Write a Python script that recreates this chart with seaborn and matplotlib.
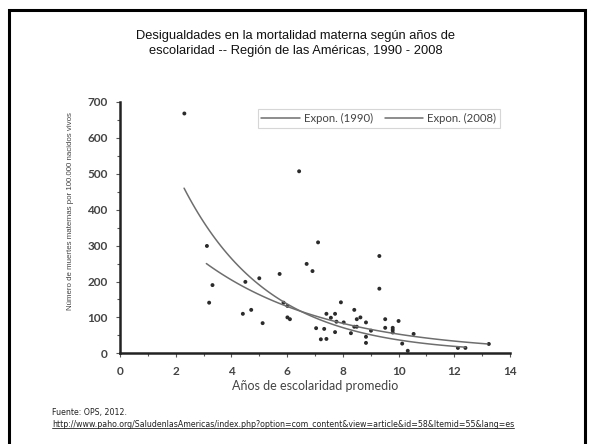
import numpy as np
import pandas as pd
import seaborn as sns
import matplotlib.pyplot as plt
from matplotlib.patches import Rectangle
from matplotlib.lines import Line2D
from matplotlib.ticker import MultipleLocator

sns.set_theme(style="ticks")

# puntos (años de escolaridad, muertes maternas por 100.000 nacidos vivos)
escolaridad = [2.31, 6.43, 3.12, 3.32, 3.20, 4.50, 4.41, 4.71, 5.00, 5.12,
               5.73, 5.87, 6.01, 6.01, 6.10, 6.70, 6.91, 7.11, 9.31, 9.31,
               7.93, 7.41, 7.72, 8.41, 7.57, 7.77, 8.03, 8.63, 8.50, 8.83,
               9.52, 10.00, 7.04, 7.33, 8.41, 8.50, 7.72, 8.29, 9.01, 9.52,
               9.79, 9.79, 9.79, 7.21, 7.41, 8.83, 8.83, 10.13, 10.33, 10.54,
               13.24, 12.13, 12.40]
mortalidad = [668, 507, 299, 190, 141, 199, 110, 121, 209, 84,
              221, 141, 132, 100, 95, 249, 229, 309, 271, 180,
              142, 110, 110, 121, 99, 88, 86, 100, 95, 86,
              95, 90, 70, 68, 74, 74, 59, 56, 63, 71,
              71, 65, 58, 39, 40, 46, 29, 27, 7, 54,
              26, 15, 15]

# líneas de tendencia exponencial y = a * exp(b * x)
tendencias = ["Expon. (1990)", "Expon. (2008)"]
coef_a = [460 / np.exp(-0.3265 * 2.3), 250 / np.exp(-0.224 * 3.1)]
coef_b = [-0.3265, -0.224]
x_desde = [2.3, 3.1]
x_hasta = [12.4, 13.2]

df = pd.DataFrame({"x": escolaridad, "y": mortalidad})
filas = []
for nombre, a, b, x0, x1 in zip(tendencias, coef_a, coef_b, x_desde, x_hasta):
    xs = np.linspace(x0, x1, 100)
    filas.append(pd.DataFrame({"x": xs, "y": a * np.exp(b * xs), "serie": nombre}))
curvas = pd.concat(filas)

fig = plt.figure(figsize=(5.92, 4.44), dpi=100)
ax = fig.add_axes([120 / 592, 1 - 353.3 / 444, 390 / 592, 251.3 / 444])

sns.lineplot(data=curvas, x="x", y="y", hue="serie", palette=["#6e6e6e", "#6e6e6e"],
             linewidth=1.1, ax=ax, estimator=None, sort=False)
sns.scatterplot(data=df, x="x", y="y", color="#2b2b2b", s=8, edgecolor="none", ax=ax,
                legend=False)

ax.set_xlim(0, 14)
ax.set_ylim(0, 700)
ax.xaxis.set_major_locator(MultipleLocator(2))
ax.xaxis.set_minor_locator(MultipleLocator(1))
ax.yaxis.set_major_locator(MultipleLocator(100))
ax.yaxis.set_minor_locator(MultipleLocator(50))
sns.despine(ax=ax)
for s in ["left", "bottom"]:
    ax.spines[s].set_linewidth(1.8)
    ax.spines[s].set_color("#222222")
ax.tick_params(which="both", direction="out", color="#555555", width=0.8)
ax.tick_params(which="major", length=3, labelsize=8.5, labelcolor="#444444", pad=6)
ax.tick_params(which="minor", length=2.5)
for lab in ax.get_xticklabels() + ax.get_yticklabels():
    lab.set_fontweight("bold")
    lab.set_family(["Lato", "DejaVu Sans"])

ax.set_xlabel("Años de escolaridad promedio", fontsize=9, color="#444444",
              family=["Lato", "DejaVu Sans"])
ax.xaxis.set_label_coords(0.5, -0.108)
ax.set_ylabel("Número de muertes maternas por 100.000 nacidos vivos", fontsize=5.7,
              color="#444444", family=["Liberation Sans", "DejaVu Sans"])
ax.yaxis.set_label_coords(-0.118, 0.566)

leg = ax.legend(loc="upper right", bbox_to_anchor=(0.99, 0.995), ncol=2,
                frameon=True, fancybox=False, handlelength=3.4, columnspacing=1.0,
                borderpad=0.35, handletextpad=0.35,
                prop={"family": ["Lato", "DejaVu Sans"], "size": 8.2})
leg.get_frame().set_edgecolor("#cccccc")
leg.get_frame().set_linewidth(0.8)
for t in leg.get_texts():
    t.set_color("#444444")

fig.text(0.5, 1 - 43.5 / 444, "Desigualdades en la mortalidad materna según años de\n"
         "escolaridad -- Región de las Américas, 1990 - 2008",
         ha="center", va="center", fontsize=9.3, family=["Liberation Sans", "DejaVu Sans"],
         linespacing=1.35, color="#111111")

fig.text(52 / 592, 1 - 412 / 444, "Fuente: OPS, 2012.", fontsize=5.7, va="center",
         family=["DejaVu Sans"], color="#222222")
url = fig.text(52 / 592, 1 - 424 / 444,
               "http://www.paho.org/SaludenlasAmericas/index.php?option=com_content"
               "&view=article&id=58&Itemid=55&lang=es",
               fontsize=5.7, va="center", family=["DejaVu Sans"], color="#222222")

fig.canvas.draw()
bb = url.get_window_extent().transformed(fig.transFigure.inverted())
fig.add_artist(Line2D([bb.x0, bb.x1], [bb.y0 + 0.002, bb.y0 + 0.002], color="#222222",
                      linewidth=0.6, transform=fig.transFigure))

fig.add_artist(Rectangle((8.5 / 592, -0.05), 576 / 592, 1.05 - 10 / 444, fill=False,
                         edgecolor="black", linewidth=2.2, transform=fig.transFigure))

fig.savefig("out.png", dpi=100)
